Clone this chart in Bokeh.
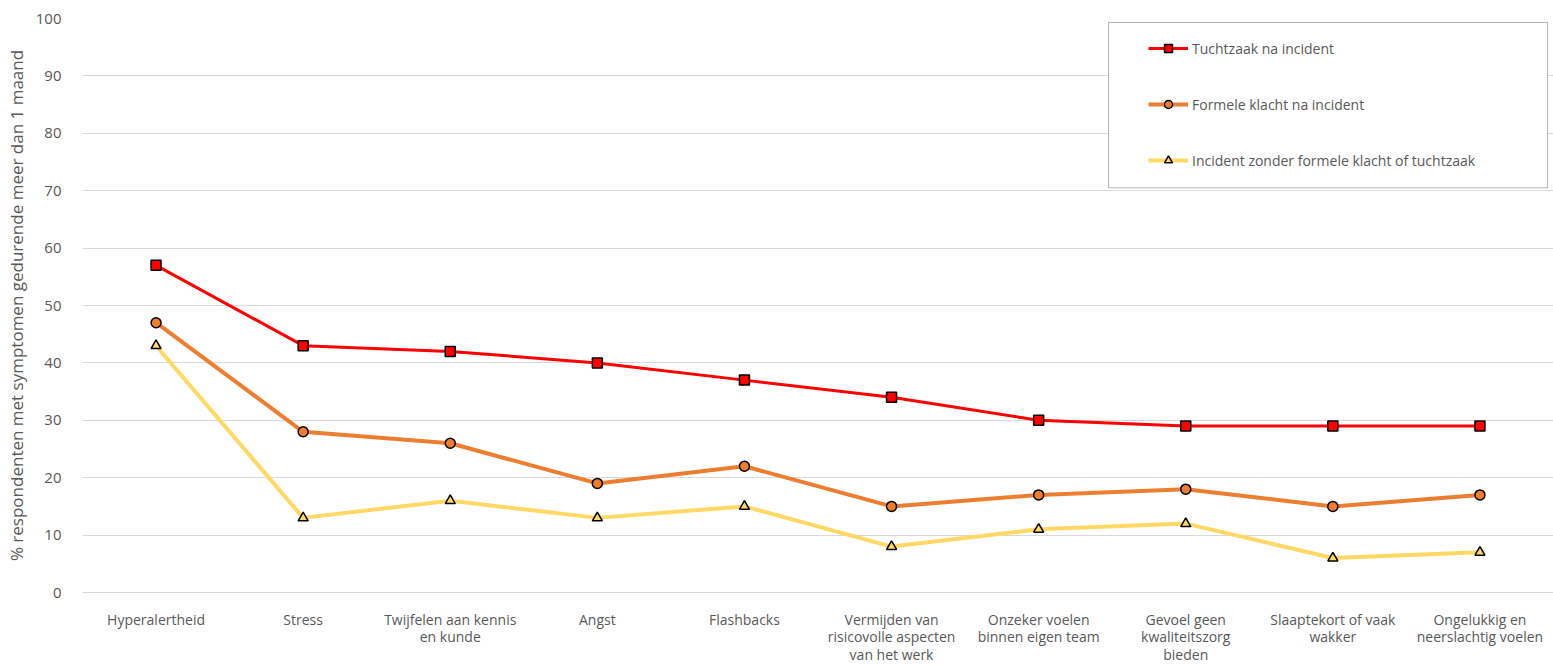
from bokeh.plotting import figure
from bokeh.models import Range1d, FixedTicker, Legend, LegendItem, BoxAnnotation
from bokeh.embed import file_html
from bokeh.resources import INLINE

categories = ["Hyperalertheid", "Stress", "Twijfelen aan kennis\nen kunde", "Angst", "Flashbacks",
              "Vermijden van\nrisicovolle aspecten\nvan het werk", "Onzeker voelen\nbinnen eigen team",
              "Gevoel geen\nkwaliteitszorg\nbieden", "Slaaptekort of vaak\nwakker",
              "Ongelukkig en\nneerslachtig voelen"]
tuchtzaak = [57, 43, 42, 40, 37, 34, 30, 29, 29, 29]
formele = [47, 28, 26, 19, 22, 15, 17, 18, 15, 17]
zonder = [43, 13, 16, 13, 15, 8, 11, 12, 6, 7]
series_names = ["Tuchtzaak na incident", "Formele klacht na incident",
                "Incident zonder formele klacht of tuchtzaak"]
y_ticks = list(range(0, 101, 10))

FONT = "Open Sans"
TXT = "#595959"

xs = [i + 0.5 for i in range(len(categories))]

p = figure(width=1553, height=666, output_backend="svg", toolbar_location=None,
           x_range=Range1d(0, len(categories)), y_range=Range1d(0, 100),
           min_border_left=82, min_border_right=0, min_border_top=18, min_border_bottom=74)
p.outline_line_color = None
p.background_fill_color = "white"
p.border_fill_color = "white"

p.xgrid.grid_line_color = None
p.ygrid.grid_line_color = "#D9D9D9"
p.ygrid.ticker = FixedTicker(ticks=y_ticks)

p.yaxis.ticker = FixedTicker(ticks=y_ticks)
p.yaxis.axis_line_color = None
p.yaxis.major_tick_line_color = None
p.yaxis.minor_tick_line_color = None
p.yaxis.major_label_text_font = FONT
p.yaxis.major_label_text_font_size = "15px"
p.yaxis.major_label_text_color = TXT
p.yaxis.major_label_standoff = 15
p.yaxis.axis_label = "% respondenten met symptomen gedurende meer dan 1 maand"
p.yaxis.axis_label_text_font = FONT
p.yaxis.axis_label_text_font_size = "17px"
p.yaxis.axis_label_text_font_style = "normal"
p.yaxis.axis_label_text_color = TXT
p.yaxis.axis_label_standoff = 5

p.xaxis.ticker = FixedTicker(ticks=xs)
p.xaxis.major_label_overrides = {x: c for x, c in zip(xs, categories)}
p.xaxis.axis_line_color = "#D9D9D9"
p.xaxis.major_tick_line_color = None
p.xaxis.minor_tick_line_color = None
p.xaxis.major_label_text_font = FONT
p.xaxis.major_label_text_font_size = "14px"
p.xaxis.major_label_text_color = TXT
p.xaxis.major_label_standoff = 11
p.xaxis.major_label_text_line_height = 0.93

l1 = p.line(xs, tuchtzaak, line_color="#FF0000", line_width=3)
m1 = p.scatter(xs, tuchtzaak, marker="square", size=10, fill_color="#FF0000", line_color="black", line_width=1.5)
l2 = p.line(xs, formele, line_color="#ED7D31", line_width=4)
m2 = p.scatter(xs, formele, marker="circle", size=10, fill_color="#ED7D31", line_color="black", line_width=1.5)
l3 = p.line(xs, zonder, line_color="#FFD966", line_width=4)
m3 = p.scatter(xs, zonder, marker="triangle", size=10, fill_color="#FFD966", line_color="black", line_width=1.5)

# legend frame
p.add_layout(BoxAnnotation(left=6.975, right=9.96, top=99.3, bottom=70.5,
                           fill_color="white", fill_alpha=1, line_color="black", line_width=1))

legend = Legend(items=[LegendItem(label=series_names[0], renderers=[l1, m1]),
                       LegendItem(label=series_names[1], renderers=[l2, m2]),
                       LegendItem(label=series_names[2], renderers=[l3, m3])],
                location=(1066, 422), padding=0, margin=0, spacing=36,
                glyph_width=40, glyph_height=20, label_height=20, label_standoff=4,
                label_text_font=FONT, label_text_font_size="14px", label_text_color=TXT,
                border_line_color=None, background_fill_alpha=0)
p.add_layout(legend, "center")

open("out.html", "w").write(file_html(p, INLINE))
